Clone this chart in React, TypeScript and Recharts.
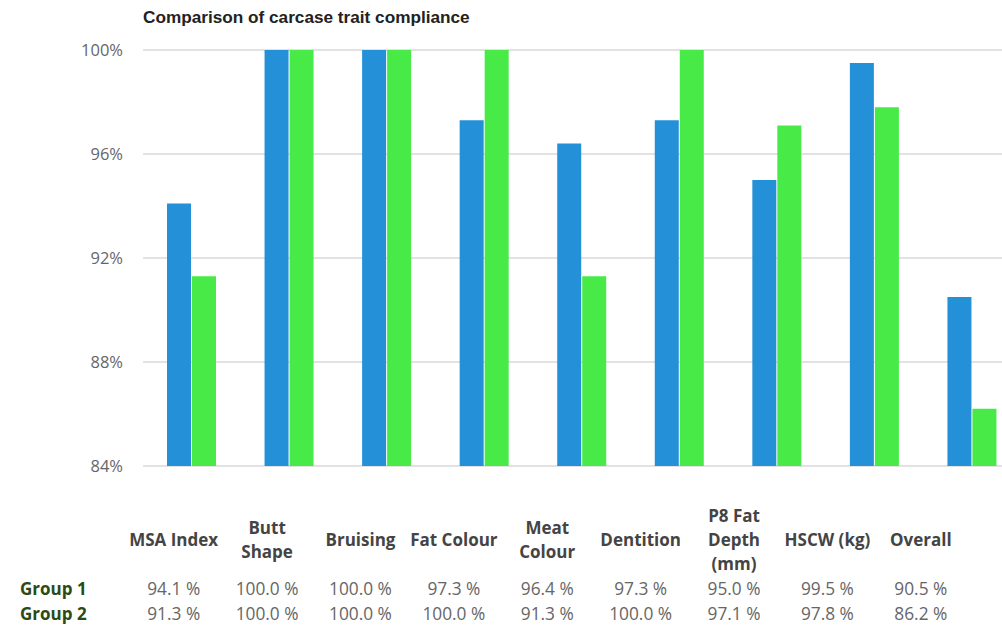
import { BarChart, Bar, XAxis, YAxis, CartesianGrid } from "recharts";

const categories = [
  "MSA Index",
  "Butt\nShape",
  "Bruising",
  "Fat Colour",
  "Meat\nColour",
  "Dentition",
  "P8 Fat\nDepth\n(mm)",
  "HSCW (kg)",
  "Overall",
];

const group1 = [94.1, 100.0, 100.0, 97.3, 96.4, 97.3, 95.0, 99.5, 90.5];
const group2 = [91.3, 100.0, 100.0, 100.0, 91.3, 100.0, 97.1, 97.8, 86.2];

const seriesNames = ["Group 1", "Group 2"];
const yTicks = [84, 88, 92, 96, 100];

const BLUE = "#2390d8";
const GREEN = "#47ea47";

const chartData = categories.map((name, i) => ({
  name,
  g1: group1[i],
  g2: group2[i],
}));

const tableFont = "'Open Sans', sans-serif";

// summary table under the chart: one column per trait, one row per group
function SummaryTable() {
  const rows = [group1, group2];
  return (
    <div
      style={{
        position: "absolute",
        left: 0,
        top: 504,
        display: "grid",
        gridTemplateColumns: "127px repeat(9, 93.4px)",
        fontFamily: tableFont,
      }}
    >
      <div style={{ height: 72 }} />
      {categories.map((c) => (
        <div
          key={c}
          style={{
            height: 72,
            display: "flex",
            alignItems: "center",
            justifyContent: "center",
            textAlign: "center",
            whiteSpace: "pre-line",
            fontWeight: 700,
            fontSize: 17,
            lineHeight: "24px",
            color: "#444",
          }}
        >
          {c}
        </div>
      ))}
      {rows.map((vals, r) => (
        <>
          <div
            key={"n" + r}
            style={{
              paddingLeft: 20,
              fontWeight: 700,
              fontSize: 17,
              lineHeight: "25px",
              color: "#2b4a14",
            }}
          >
            {seriesNames[r]}
          </div>
          {vals.map((v, i) => (
            <div
              key={r + "-" + i}
              style={{
                textAlign: "center",
                fontSize: 17.3,
                lineHeight: "25px",
                color: "#666",
              }}
            >
              {v.toFixed(1)} %
            </div>
          ))}
        </>
      ))}
    </div>
  );
}

export default function App() {
  return (
    <div
      style={{
        position: "absolute",
        left: 0,
        top: 0,
        width: 1002,
        height: 628,
        overflow: "hidden",
        background: "#fff",
      }}
    >
      <div
        style={{
          position: "absolute",
          left: 143,
          top: 7,
          fontFamily: "'Liberation Sans', Arial, sans-serif",
          fontWeight: 700,
          fontSize: 17.2,
          color: "#222",
        }}
      >
        Comparison of carcase trait compliance
      </div>

      <BarChart
        width={1021}
        height={628}
        data={chartData}
        margin={{ top: 50, right: 0, bottom: 0, left: 0 }}
        barGap={1}
        barSize={24}
      >
        <CartesianGrid vertical={false} stroke="#d9d9d9" strokeWidth={1.5} />
        <YAxis
          domain={[84, 100]}
          ticks={yTicks}
          width={143}
          axisLine={false}
          tickLine={false}
          tickSize={0}
          tickMargin={20}
          tickFormatter={(v) => `${v}%`}
          tick={{
            fill: "#666",
            fontSize: 16.5,
            fontFamily: tableFont,
          }}
        />
        <XAxis
          dataKey="name"
          height={162}
          axisLine={false}
          tickLine={false}
          tick={false}
        />
        <Bar dataKey="g1" fill={BLUE} isAnimationActive={false} />
        <Bar dataKey="g2" fill={GREEN} isAnimationActive={false} />
      </BarChart>

      <SummaryTable />
    </div>
  );
}
